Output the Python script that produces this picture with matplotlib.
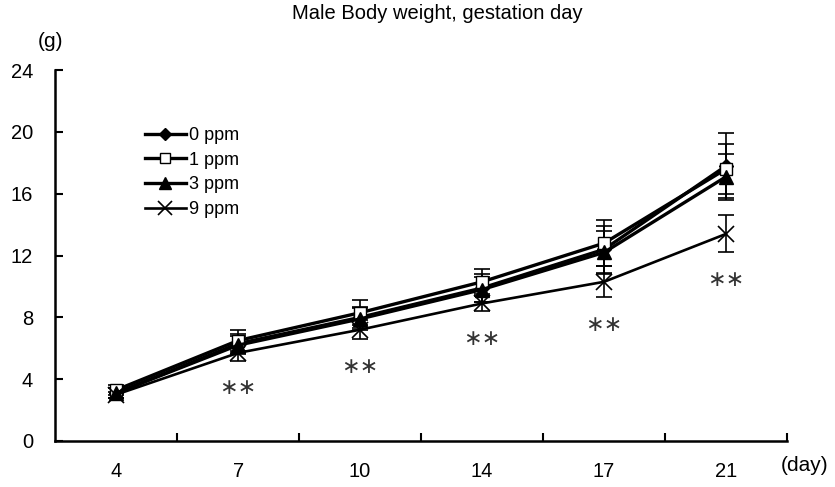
import matplotlib.pyplot as plt

plt.rcParams['font.family'] = ['Liberation Sans', 'DejaVu Sans']

days = ['4', '7', '10', '14', '17', '21']
groups = ['0 ppm', '1 ppm', '3 ppm', '9 ppm']

w_0ppm = [3.1, 6.3, 8.0, 9.9, 12.4, 17.8]
w_1ppm = [3.3, 6.5, 8.3, 10.3, 12.8, 17.6]
w_3ppm = [3.1, 6.2, 7.9, 9.8, 12.2, 17.1]
w_9ppm = [3.0, 5.7, 7.2, 8.9, 10.3, 13.4]

sd_0ppm = [0.3, 0.6, 0.7, 0.9, 1.5, 2.1]
sd_1ppm = [0.3, 0.7, 0.8, 0.8, 1.5, 1.6]
sd_3ppm = [0.3, 0.6, 0.7, 0.8, 1.4, 1.5]
sd_9ppm = [0.2, 0.5, 0.6, 0.5, 1.0, 1.2]

# days where 9 ppm differs (**)
sig_days = ['7', '10', '14', '17', '21']


def main():
	fig = plt.figure(figsize=(8.35, 4.87), dpi=100)
	ax = fig.add_axes([0.066, 0.0945, 0.8765, 0.7615])

	x = list(range(len(days)))
	means = [w_0ppm, w_1ppm, w_3ppm, w_9ppm]
	sds = [sd_0ppm, sd_1ppm, sd_3ppm, sd_9ppm]
	styles = [
		dict(marker='D', mfc='black', ms=7),
		dict(marker='s', mfc='white', ms=9),
		dict(marker='^', mfc='black', ms=10),
		dict(marker='x', mfc='black', ms=12, mew=1.2),
	]
	lws = [2.4, 2.4, 2.4, 1.9]

	handles = []
	for m, s, st, lw, lab in zip(means, sds, styles, lws, groups):
		c = ax.errorbar(x, m, yerr=s, color='black', lw=lw, capsize=6, elinewidth=1.2,
						capthick=1.2, mec='black', label=lab, **st)
		handles.append(c[0])

	# ** under the 9 ppm error bar
	for d in sig_days:
		i = days.index(d)
		ax.text(i, w_9ppm[i] - sd_9ppm[i] - 1.8, '\u2217\u2217', ha='center', va='center',
				fontsize=16, color='#333333', family='DejaVu Sans')

	ax.set_xlim(-0.5, len(days) - 0.5)
	ax.set_ylim(0, 24)
	ax.set_yticks([0, 4, 8, 12, 16, 20, 24])
	ax.set_xticks([i + 0.5 for i in x])
	ax.set_xticklabels([])
	ax.set_xticks(x, minor=True)
	ax.set_xticklabels(days, minor=True)
	ax.tick_params(axis='x', which='minor', length=0, pad=15, labelsize=14.5)
	ax.tick_params(axis='x', which='major', direction='in', length=6, width=1.5)
	ax.tick_params(axis='y', direction='in', length=6, width=1.5, pad=16, labelsize=14.5)

	for side in ['top', 'right']:
		ax.spines[side].set_visible(False)
	for side in ['left', 'bottom']:
		ax.spines[side].set_linewidth(1.8)

	ax.legend(handles, groups, loc='upper left', bbox_to_anchor=(0.1, 0.89), frameon=False,
			  fontsize=13, handlelength=2.3, handletextpad=0.15, labelspacing=0.42,
			  numpoints=1, markerscale=0.85)

	fig.text(0.524, 0.973, 'Male Body weight, gestation day', ha='center', va='center', fontsize=14.5)
	fig.text(0.06, 0.914, '(g)', ha='center', va='center', fontsize=15)
	fig.text(0.963, 0.045, '(day)', ha='center', va='center', fontsize=15)

	plt.savefig('out.png')
	plt.close()


if __name__ == '__main__':
	main()
